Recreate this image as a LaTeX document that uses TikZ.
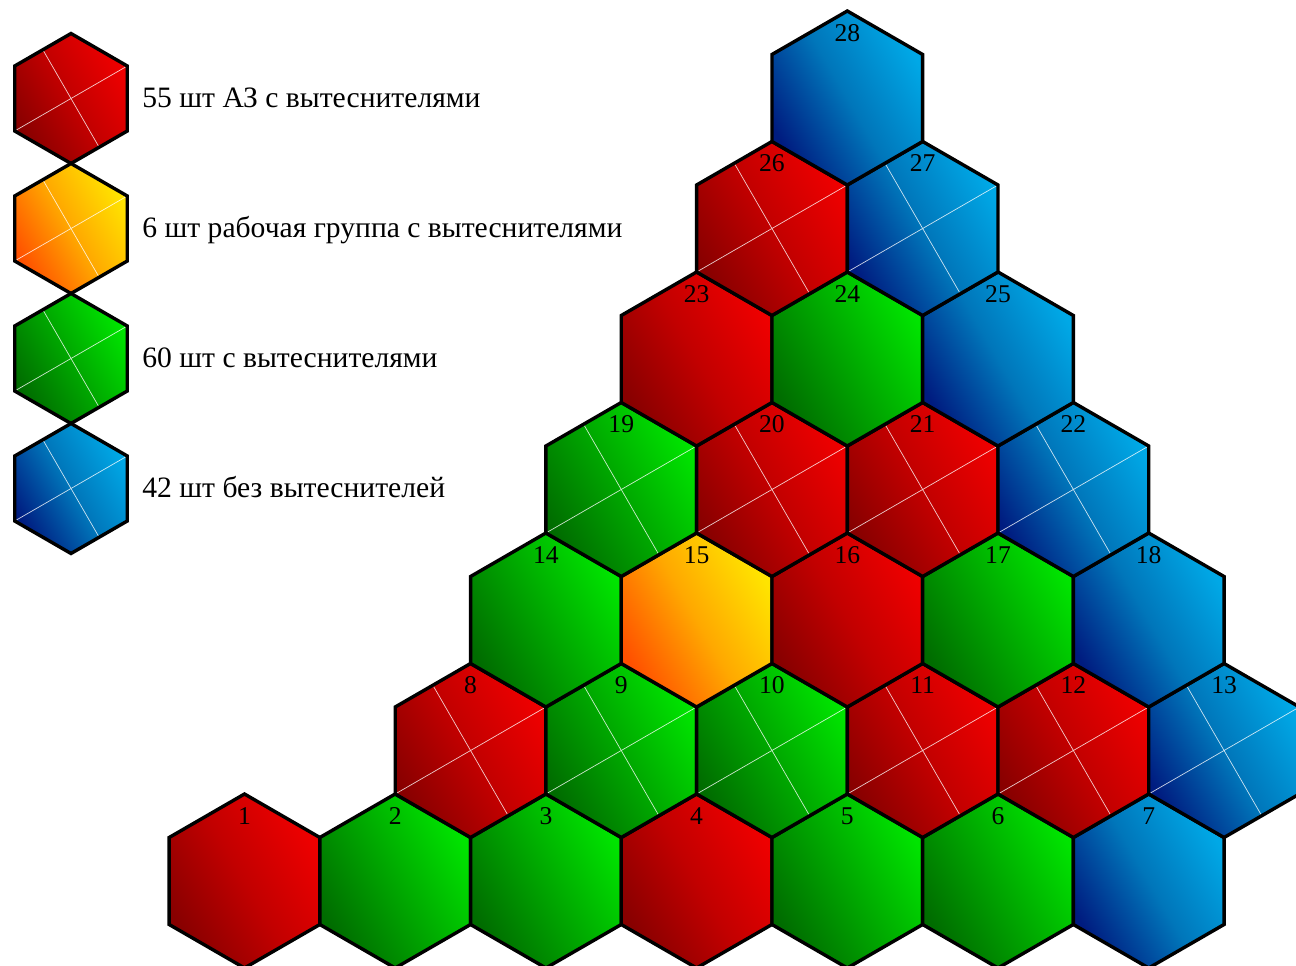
\documentclass[tikz,border=0pt]{standalone}
\usepackage{fontspec}
\setmainfont{Liberation Serif}
\usepackage{tikz}
\usetikzlibrary{shapes.geometric}
\definecolor{redD}{HTML}{880000}
\definecolor{redM}{HTML}{C20000}
\definecolor{redL}{HTML}{EE0000}
\definecolor{grD}{HTML}{006C00}
\definecolor{grM}{HTML}{00A800}
\definecolor{grL}{HTML}{00E400}
\definecolor{blD}{HTML}{001C80}
\definecolor{blM}{HTML}{0076BA}
\definecolor{blL}{HTML}{00A8E6}
\definecolor{yeD}{HTML}{FF5000}
\definecolor{yeM}{HTML}{FFA800}
\definecolor{yeL}{HTML}{FFE400}
\tikzstyle{hexbase} = [regular polygon, regular polygon sides=6, shape border rotate=30,
  draw=black, line width=1.7pt, inner sep=0pt, outer sep=0pt]
\tikzstyle{hex} = [hexbase, minimum size=87pt]
\tikzstyle{hexs} = [hexbase, minimum size=65pt]
\tikzstyle{az} = [left color=redD, right color=redL, middle color=redM, shading angle=120]
\tikzstyle{gr} = [left color=grD, right color=grL, middle color=grM, shading angle=120]
\tikzstyle{bl} = [left color=blD, right color=blL, middle color=blM, shading angle=120]
\tikzstyle{ye} = [left color=yeD, right color=yeL, middle color=yeM, shading angle=120]
\tikzstyle{cross} = [path picture={
  \draw[white, line width=0.35pt, opacity=0.8]
    ([shift={(30:60pt)}]path picture bounding box.center) -- ([shift={(210:60pt)}]path picture bounding box.center)
    ([shift={(120:60pt)}]path picture bounding box.center) -- ([shift={(300:60pt)}]path picture bounding box.center);}]
\tikzstyle{num} = [inner sep=0pt, font=\fontsize{12.8}{14}\selectfont]
\tikzstyle{legtext} = [anchor=base west, inner sep=0pt, font=\fontsize{14.8}{17}\selectfont]
\def\cells{1/az/0/0, 2/gr/1/0, 3/gr/2/0, 4/az/3/0, 5/gr/4/0, 6/gr/5/0, 7/bl/6/0,
  8/az/1.5/1, 9/gr/2.5/1, 10/gr/3.5/1, 11/az/4.5/1, 12/az/5.5/1, 13/bl/6.5/1,
  14/gr/2/2, 15/ye/3/2, 16/az/4/2, 17/gr/5/2, 18/bl/6/2,
  19/gr/2.5/3, 20/az/3.5/3, 21/az/4.5/3, 22/bl/5.5/3,
  23/az/3/4, 24/gr/4/4, 25/bl/5/4,
  26/az/3.5/5, 27/bl/4.5/5,
  28/bl/4/6}
\begin{document}
\begin{tikzpicture}[x=0.5pt, y=0.5pt]
\useasboundingbox (0,0) rectangle (1296,965);

\foreach \s/\t [count=\i] in {az/{55 шт АЗ с вытеснителями},
    ye/{6 шт рабочая группа с вытеснителями},
    gr/{60 шт с вытеснителями},
    bl/{42 шт без вытеснителей}} {
  \node[hexs, \s, cross] (l\i) at (71, {866.5-130*(\i-1)}) {};
  \node[legtext] (t\i) at (142, {857-130*(\i-1)}) {\t};
}

\foreach \n/\s/\c/\r in \cells {
  \ifodd\r
    \node[hex, \s, cross] (h\n) at ({244.5+150.7*\c}, {84+130.5*\r}) {};
  \else
    \node[hex, \s] (h\n) at ({244.5+150.7*\c}, {84+130.5*\r}) {};
  \fi
}
\foreach \n/\s/\c/\r in \cells
  \node[num] (n\n) at ({244.5+150.7*\c}, {149+130.5*\r}) {\n};
\end{tikzpicture}
\end{document}
